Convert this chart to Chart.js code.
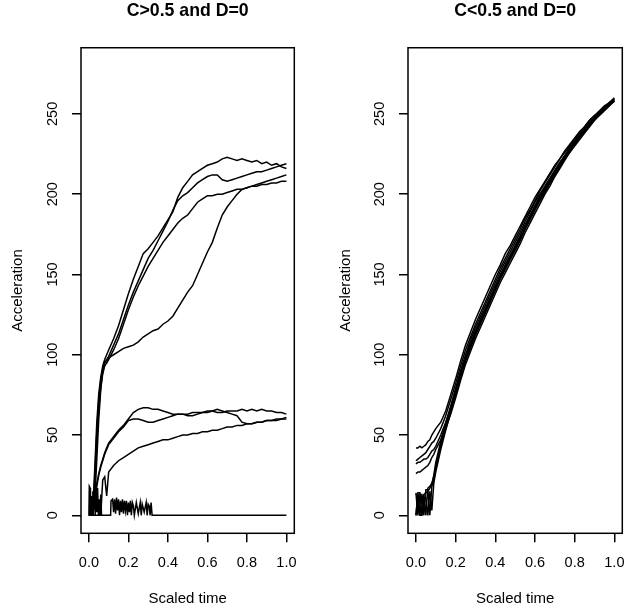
<!DOCTYPE html>
<html>
<head>
<meta charset="utf-8">
<title>Acceleration over scaled time</title>
<script src="https://cdn.jsdelivr.net/npm/chart.js@4.4.1/dist/chart.umd.min.js"></script>
<style>
  body { margin: 0; background: #fff; }
  canvas { position: absolute; top: 0; }
</style>
</head>
<body>
<canvas id="left" width="313" height="612" style="left:0"></canvas>
<canvas id="right" width="314" height="612" style="left:313px"></canvas>
<script>
// shared sampling grid (scaled time), finer at the very start
const time = [0, 0.01, 0.02, 0.03, 0.04, 0.05, 0.06, 0.07, 0.08, 0.09, 0.1,
  0.125, 0.15, 0.175, 0.2, 0.225, 0.25, 0.275, 0.3, 0.325, 0.35, 0.375, 0.4, 0.425, 0.45, 0.475,
  0.5, 0.525, 0.55, 0.575, 0.6, 0.625, 0.65, 0.675, 0.7, 0.725, 0.75, 0.775, 0.8, 0.825, 0.85,
  0.875, 0.9, 0.925, 0.95, 0.975, 1];

const xTicks = [0, 0.2, 0.4, 0.6, 0.8, 1];
const xTickLabels = ["0.0", "0.2", "0.4", "0.6", "0.8", "1.0"];
const yTicks = [0, 50, 100, 150, 200, 250];
const yTickLabels = ["0", "50", "100", "150", "200", "250"];

// C>0.5 : runs that climb past 200
const highA = [0, 0, 4, 30, 58, 76, 86, 93, 97, 100, 103,
  110, 118, 128, 138, 147, 155, 163, 166, 170, 174, 179, 184, 189, 198, 204, 208, 212, 214, 216,
  218, 219, 220, 222, 223, 222, 221, 222, 221, 220, 221, 219, 220, 218, 219, 217, 216];
const highB = [0, 0, 2, 25, 52, 72, 84, 91, 95, 97, 99,
  106, 113, 122, 131, 139, 146, 153, 160, 165, 171, 177, 183, 190, 196, 199, 201, 204, 207, 209,
  211, 212, 212, 209, 208, 209, 210, 211, 212, 213, 214, 214, 215, 216, 217, 218, 219];
const highC = [0, 0, 0, 18, 45, 66, 80, 88, 93, 95, 97,
  103, 110, 119, 128, 136, 143, 149, 155, 160, 165, 170, 174, 178, 182, 185, 187, 191, 195, 197,
  199, 199, 200, 200, 201, 202, 203, 203, 204, 205, 205, 206, 206, 207, 207, 208, 208];
const highD = [0, 0, 0, 10, 35, 60, 78, 90, 96, 95, 98,
  100, 102, 104, 105, 106, 108, 111, 113, 115, 116, 119, 121, 124, 129, 134, 139, 143, 150, 157,
  164, 170, 179, 187, 192, 196, 200, 203, 204, 205, 206, 207, 208, 209, 210, 211, 212];

// C>0.5 : runs that level out near 60
const lowA = [0, 0, 2, 10, 20, 26, 31, 35, 39, 42, 45,
  49, 53, 56, 60, 64, 66, 67, 67, 66, 66, 65, 64, 63, 63, 63, 62, 62, 63, 64,
  64, 65, 64, 64, 65, 65, 65, 66, 65, 66, 65, 66, 65, 65, 64, 64, 63];
const lowB = [0, 0, 0, 8, 18, 25, 30, 34, 38, 41, 44,
  48, 52, 55, 59, 60, 60, 59, 58, 58, 59, 60, 61, 62, 63, 63, 63, 64, 64, 64,
  65, 65, 66, 65, 64, 63, 62, 58, 57, 57, 58, 58, 59, 59, 60, 60, 61];
const lowC = [0, 0, 0, 0, 0, 0, 0, 22, 24, 12, 27,
  31, 34, 36, 38, 40, 42, 43, 44, 45, 46, 47, 47, 48, 49, 50, 50, 51, 51, 52,
  52, 53, 53, 54, 55, 55, 56, 56, 57, 57, 58, 58, 59, 59, 59, 60, 60];

// C>0.5 : run that stays near zero
const stallTime = [0, 0.002, 0.006, 0.008, 0.012, 0.016, 0.02, 0.024, 0.028, 0.032, 0.036, 0.04,
  0.044, 0.048, 0.052, 0.056, 0.06, 0.064, 0.07, 0.11, 0.112, 0.12, 0.125, 0.13, 0.135, 0.14,
  0.145, 0.15, 0.155, 0.16, 0.165, 0.17, 0.175, 0.18, 0.185, 0.19, 0.195, 0.2, 0.205, 0.21,
  0.215, 0.22, 0.225, 0.23, 0.24, 0.25, 0.26, 0.265, 0.27, 0.28, 0.29, 0.295, 0.3, 0.305,
  0.31, 0.315, 0.32, 1];
const stallValue = [0, 18, 17, 0, 12, 0, 15, 4, 16, 0, 14, 2,
  17, 0, 10, 0, 13, 0, 0, 0, 9, 10, 2, 10, 1, 11,
  3, 10, 0, 9, 2, 10, 1, 9, 3, 9, 0, 8, 2, 9,
  0, 8, 6, 0, 8, 1, 8, 0, 7, 2, 8, 0, 7, 6,
  0, 8, 0, 0];

// C<0.5 : runs that all end near 260
const runA = [42, 42, 43, 42, 43, 44, 46, 47, 50, 52, 54,
  58, 65, 75, 85, 96, 106, 114, 122, 129, 136, 143, 150, 156, 163, 168, 174, 180, 186, 192,
  198, 203, 208, 213, 218, 222, 227, 231, 235, 239, 242, 246, 249, 252, 255, 257, 259];
const runB = [34, 35, 36, 37, 38, 39, 41, 43, 45, 46, 48,
  54, 62, 72, 82, 93, 103, 111, 119, 126, 133, 140, 147, 154, 160, 166, 172, 178, 185, 190,
  196, 202, 207, 212, 217, 222, 226, 230, 234, 238, 242, 246, 249, 251, 254, 257, 260];
const runC = [32, 33, 33, 34, 35, 35, 36, 38, 40, 41, 43,
  50, 58, 67, 78, 89, 99, 107, 115, 122, 129, 136, 143, 150, 156, 162, 168, 174, 181, 187,
  193, 199, 204, 209, 214, 219, 224, 228, 232, 236, 240, 244, 247, 251, 254, 256, 258];
const runD = [26, 27, 27, 28, 29, 30, 31, 33, 36, 38, 41,
  47, 56, 65, 75, 86, 96, 104, 112, 119, 126, 133, 140, 147, 153, 159, 165, 171, 178, 184,
  190, 196, 201, 207, 212, 217, 222, 227, 231, 235, 239, 243, 246, 250, 253, 256, 258];
const runE = [0, 14, 14, 0, 13, 14, 15, 17, 19, 25, 33,
  46, 57, 68, 79, 90, 100, 109, 117, 124, 131, 138, 145, 152, 158, 164, 170, 176, 183, 189,
  195, 200, 205, 210, 215, 220, 224, 229, 233, 237, 241, 245, 248, 251, 254, 257, 259];
const runF = [14, 0, 13, 13, 0, 16, 16, 0, 18, 22, 29,
  43, 55, 66, 76, 87, 97, 105, 113, 121, 128, 135, 142, 149, 155, 161, 167, 173, 179, 186,
  192, 198, 203, 208, 213, 218, 223, 227, 232, 236, 240, 244, 247, 250, 253, 256, 259];
const runG = [0, 13, 0, 12, 12, 0, 17, 18, 20, 24, 30,
  44, 54, 63, 73, 84, 94, 102, 110, 117, 124, 131, 138, 145, 151, 157, 163, 169, 176, 182,
  188, 194, 200, 205, 211, 216, 221, 226, 230, 234, 238, 242, 246, 249, 252, 255, 258];
const runH = [13, 13, 0, 0, 11, 11, 0, 15, 3, 20, 27,
  41, 53, 64, 76, 88, 98, 106, 114, 120, 127, 134, 141, 148, 154, 160, 166, 172, 179, 185,
  191, 197, 202, 207, 212, 217, 222, 226, 231, 235, 239, 243, 247, 250, 253, 256, 258];

const family = "'Liberation Sans', Arial, Helvetica, sans-serif";

function toPoints(xs, ys) {
  return xs.map((x, i) => ({ x: x, y: ys[i] }));
}

// frame around the plotting region
const boxPlugin = {
  id: "box",
  afterDraw(chart) {
    const { ctx, chartArea: a } = chart;
    ctx.save();
    ctx.strokeStyle = "#000";
    ctx.lineWidth = 1.5;
    ctx.strokeRect(a.left, a.top, a.right - a.left, a.bottom - a.top);
    ctx.restore();
  }
};

function drawPanel(id, heading, series, frame) {
  new Chart(document.getElementById(id), {
    type: "scatter",
    data: {
      datasets: series.map(s => ({
        data: s,
        showLine: true,
        borderColor: "#000",
        borderWidth: 1.5,
        pointRadius: 0,
        fill: false
      }))
    },
    options: {
      responsive: false,
      animation: false,
      devicePixelRatio: 1,
      layout: { padding: { left: 0, right: frame.right, top: 0, bottom: 0 } },
      plugins: {
        legend: { display: false },
        tooltip: { enabled: false },
        title: {
          display: true,
          text: heading,
          fullSize: false,
          color: "#000",
          font: { family: family, size: 17.7, weight: "bold" },
          padding: { top: 0, bottom: 26.5 }
        }
      },
      scales: {
        x: {
          type: "linear",
          min: -0.04,
          max: 1.04,
          afterBuildTicks: s => { s.ticks = xTicks.map(v => ({ value: v })); },
          afterFit: s => { s.height = 78.7; s.paddingLeft = 0; s.paddingRight = 0; },
          ticks: {
            callback: (v, i) => xTickLabels[i],
            color: "#000",
            font: { family: family, size: 14.5 },
            padding: 12,
            autoSkip: false,
            maxRotation: 0
          },
          grid: { drawOnChartArea: false, tickLength: 9, color: "#000", lineWidth: 1.5 },
          border: { display: false },
          title: {
            display: true,
            text: "Scaled time",
            color: "#000",
            font: { family: family, size: 15 },
            padding: { top: 0, bottom: 4 }
          }
        },
        y: {
          type: "linear",
          min: -11.2,
          max: 291.2,
          afterBuildTicks: s => { s.ticks = yTicks.map(v => ({ value: v })); },
          afterFit: s => { s.width = frame.yWidth; s.paddingTop = 0; s.paddingBottom = 0; },
          ticks: {
            callback: (v, i) => yTickLabels[i],
            color: "#000",
            font: { family: family, size: 14.5 },
            padding: 7,
            autoSkip: false,
            minRotation: 90,
            maxRotation: 90,
            crossAlign: "center"
          },
          grid: { drawOnChartArea: false, tickLength: 9, color: "#000", lineWidth: 1.5 },
          border: { display: false },
          title: {
            display: true,
            text: "Acceleration",
            color: "#000",
            font: { family: family, size: 15 },
            padding: { top: frame.yTitlePad, bottom: 0 }
          }
        }
      }
    },
    plugins: [boxPlugin]
  });
}

drawPanel("left", "C>0.5 and D=0", [
  toPoints(time, highA), toPoints(time, highB), toPoints(time, highC), toPoints(time, highD),
  toPoints(time, lowA), toPoints(time, lowB), toPoints(time, lowC),
  toPoints(stallTime, stallValue)
], { yWidth: 81, right: 18.7, yTitlePad: 9.3 });

drawPanel("right", "C<0.5 and D=0", [
  toPoints(time, runA), toPoints(time, runB), toPoints(time, runC), toPoints(time, runD),
  toPoints(time, runE), toPoints(time, runF), toPoints(time, runG), toPoints(time, runH)
], { yWidth: 95, right: 4.7, yTitlePad: 24 });
</script>
</body>
</html>
